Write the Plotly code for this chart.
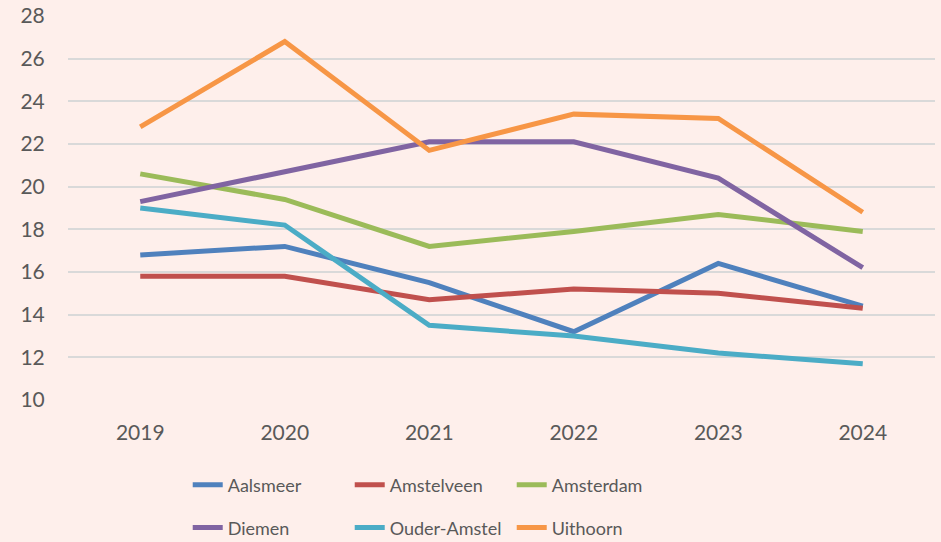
import plotly.graph_objects as go

# Years on the x axis
years = ["2019", "2020", "2021", "2022", "2023", "2024"]

# Values per municipality
aalsmeer = [16.8, 17.2, 15.5, 13.2, 16.4, 14.4]
amstelveen = [15.8, 15.8, 14.7, 15.2, 15.0, 14.3]
amsterdam = [20.6, 19.4, 17.2, 17.9, 18.7, 17.9]
diemen = [19.3, 20.7, 22.1, 22.1, 20.4, 16.2]
ouder_amstel = [19.0, 18.2, 13.5, 13.0, 12.2, 11.7]
uithoorn = [22.8, 26.8, 21.7, 23.4, 23.2, 18.8]

series = [
    ("Aalsmeer", aalsmeer, "#4F81BD", "legend"),
    ("Amstelveen", amstelveen, "#C0504D", "legend"),
    ("Amsterdam", amsterdam, "#9BBB59", "legend"),
    ("Diemen", diemen, "#8064A2", "legend2"),
    ("Ouder-Amstel", ouder_amstel, "#4BACC6", "legend2"),
    ("Uithoorn", uithoorn, "#F79646", "legend2"),
]

fig = go.Figure()
for name, values, color, leg in series:
    fig.add_trace(go.Scatter(
        x=years, y=values, name=name, mode="lines",
        line=dict(color=color, width=5),
        legend=leg,
    ))

bg = "#FEEFEB"
text_color = "#595959"

# two legend rows, three entries each, placed in container coordinates
legend_style = dict(
    orientation="h",
    xref="container",
    yref="container",
    xanchor="left",
    yanchor="middle",
    x=0.1995,
    bgcolor="rgba(0,0,0,0)",
    font=dict(size=18, color=text_color),
    entrywidth=117,
    entrywidthmode="pixels",
    itemwidth=30,
    traceorder="normal",
)

fig.update_layout(
    width=941,
    height=542,
    paper_bgcolor=bg,
    plot_bgcolor=bg,
    font=dict(family="Lato, Open Sans, sans-serif", color=text_color, size=21),
    margin=dict(l=68, r=6, t=16, b=142, autoexpand=False),
    showlegend=True,
    legend=dict(legend_style, y=0.105),
    legend2=dict(legend_style, y=0.026),
    xaxis=dict(
        type="category",
        range=[-0.5, 5.5],
        showgrid=False,
        showline=False,
        zeroline=False,
        ticks="outside",
        ticklen=14,
        tickcolor="rgba(0,0,0,0)",
        tickfont=dict(size=21, color=text_color),
    ),
    yaxis=dict(
        range=[10, 28],
        dtick=2,
        showgrid=True,
        gridcolor="#D9D9D9",
        gridwidth=1.5,
        zeroline=False,
        showline=False,
        ticks="outside",
        ticklen=18,
        tickcolor="rgba(0,0,0,0)",
        tickfont=dict(size=21, color=text_color),
    ),
)

fig.write_html(
    "out.html",
    config={"displayModeBar": False},
    post_script="document.body.style.margin='0';document.body.style.background='#FEEFEB';",
)
